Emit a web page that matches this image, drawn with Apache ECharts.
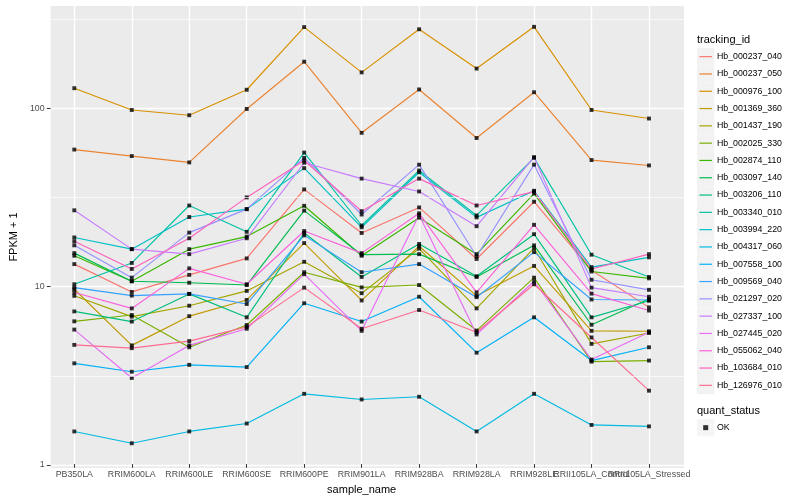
<!DOCTYPE html>
<html><head><meta charset="utf-8">
<script src="https://cdn.jsdelivr.net/npm/echarts@6/dist/echarts.min.js"></script>
<style>html,body{margin:0;padding:0;background:#fff}#c{width:800px;height:500px}</style>
</head><body><div id="c"></div>
<script>
const categories = ['PB350LA','RRIM600LA','RRIM600LE','RRIM600SE','RRIM600PE','RRIM901LA','RRIM928BA','RRIM928LA','RRIM928LE','RRII105LA_Control','RRII105LA_Stressed'];
const trackingIds = ['Hb_000237_040','Hb_000237_050','Hb_000976_100','Hb_001369_360','Hb_001437_190','Hb_002025_330','Hb_002874_110','Hb_003097_140','Hb_003206_110','Hb_003340_010','Hb_003994_220','Hb_004317_060','Hb_007558_100','Hb_009569_040','Hb_021297_020','Hb_027337_100','Hb_027445_020','Hb_055062_040','Hb_103684_010','Hb_126976_010'];
const colors = ['#F8766D','#EA8331','#D89000','#C09B00','#A3A500','#7CAE00','#39B600','#00BB4E','#00BF7D','#00C1A3','#00BFC4','#00BAE0','#00B0F6','#35A2FF','#9590FF','#C77CFF','#E76BF3','#FA62DB','#FF62BC','#FF6C91'];
const yTicks = [1, 10, 100];
const quantStatus = ['OK'];

const hb_000237_040 = [13.0, 9.05, 11.3, 14.0, 34.4, 19.5, 27.2, 13.9, 29.3, 12.0, 7.4];
const hb_000237_050 = [57.8, 53.1, 48.9, 98.1, 181.6, 71.9, 126.5, 67.2, 122, 50.4, 47];
const hb_000976_100 = [128.6, 96.8, 90.4, 126, 285, 158, 277, 166, 286, 96.8, 86.6];
const hb_001369_360 = [9.37, 4.51, 6.6, 8.15, 17.1, 8.1, 16.4, 8.6, 12.7, 5.45, 5.42];
const hb_001437_190 = [8.6, 6.56, 7.56, 9.17, 13.4, 8.9, 15.9, 7.3, 16.0, 4.6, 5.3];
const hb_002025_330 = [6.17, 6.7, 4.4, 5.88, 11.7, 9.6, 9.9, 5.47, 10.9, 3.65, 3.7];
const hb_002874_110 = [14.5, 10.4, 15.8, 18.6, 27.8, 14.5, 23.8, 14.8, 32.6, 11.8, 10.8];
const hb_003097_140 = [15.0, 10.4, 10.2, 9.9, 26.1, 14.7, 14.8, 11.0, 16.6, 5.9, 8.25];
const hb_003206_110 = [7.02, 6.15, 8.82, 6.5, 19.5, 11.0, 16.9, 11.1, 19.2, 6.5, 8.06];
const hb_003340_010 = [10.0, 13.2, 27.9, 19.8, 55.6, 21.5, 44, 24.5, 51.9, 14.7, 11.0];
const hb_003994_220 = [18.4, 15.8, 24.0, 26.6, 45.4, 21.0, 43, 23.9, 33.8, 12.5, 14.2];
const hb_004317_060 = [1.47, 1.26, 1.47, 1.63, 2.40, 2.23, 2.31, 1.47, 2.40, 1.6, 1.57];
const hb_007558_100 = [3.57, 3.2, 3.5, 3.4, 7.81, 6.15, 8.5, 4.1, 6.5, 3.7, 4.4];
const hb_009569_040 = [9.57, 8.63, 8.82, 7.73, 18.9, 11.7, 13.0, 8.45, 15.2, 8.2, 8.15];
const hb_021297_020 = [16.6, 10.9, 19.6, 26.6, 51.9, 24.8, 47.5, 14.4, 47.5, 10.6, 9.3];
const hb_027337_100 = [26.2, 15.8, 14.8, 18.2, 48.7, 39.6, 33.5, 21.3, 52.4, 9.57, 8.5];
const hb_027445_020 = [5.54, 2.95, 4.51, 5.6, 11.4, 5.45, 24.7, 5.2, 10.4, 3.75, 5.35];
const hb_055062_040 = [8.98, 7.3, 12.3, 10.0, 20.0, 15.0, 25.2, 9.0, 21.7, 8.85, 7.1];
const hb_103684_010 = [17.5, 12.2, 18.2, 31.0, 50.1, 25.9, 39.6, 27.9, 33.4, 12.2, 14.8];
const hb_126976_010 = [4.54, 4.35, 4.77, 5.74, 9.57, 5.6, 7.15, 5.35, 10.0, 5.0, 2.5];

const seriesValues = [hb_000237_040, hb_000237_050, hb_000976_100, hb_001369_360, hb_001437_190, hb_002025_330, hb_002874_110, hb_003097_140, hb_003206_110, hb_003340_010, hb_003994_220, hb_004317_060, hb_007558_100, hb_009569_040, hb_021297_020, hb_027337_100, hb_027445_020, hb_055062_040, hb_103684_010, hb_126976_010];

// ggplot-like limits: log range expanded by 5%
const allVals = seriesValues.flat();
const lo = Math.log10(Math.min(...allVals)), hi = Math.log10(Math.max(...allVals));
const pad = 0.05 * (hi - lo);
const yMin = Math.pow(10, lo - pad), yMax = Math.pow(10, hi + pad);
// minor breaks halfway (in log space) between major breaks
const yMinor = yTicks.map(t => t * Math.sqrt(10)).filter(v => v > yMin && v < yMax);

const FONT = 'Liberation Sans';
const lineSeries = trackingIds.map((id, i) => ({
  name: id, type: 'line', xAxisIndex: 1, yAxisIndex: 1,
  data: seriesValues[i], symbol: 'none', showSymbol: false, silent: true,
  lineStyle: { width: 1.15, color: colors[i] }, itemStyle: { color: colors[i] },
  z: 3
}));
const pointData = [];
seriesValues.forEach(arr => arr.forEach((v, j) => pointData.push([categories[j], v])));
const pointSeries = {
  name: quantStatus[0], type: 'scatter', xAxisIndex: 1, yAxisIndex: 1, data: pointData,
  symbol: 'rect', symbolSize: 3.9, itemStyle: { color: '#000' }, silent: true, z: 4
};
// minor horizontal grid lines across the whole panel
const minorGridSeries = {
  name: '_minor', type: 'line', xAxisIndex: 0, yAxisIndex: 0, data: [], silent: true, z: 1,
  markLine: { silent: true, symbol: ['none', 'none'], label: { show: false },
    lineStyle: { color: '#FFFFFF', width: 0.7, type: 'solid' },
    emphasis: { disabled: true },
    data: yMinor.map(v => ({ yAxis: v })) }
};

const chart = echarts.init(document.getElementById('c'), null, { renderer: 'canvas' });
chart.setOption({
  animation: false,
  backgroundColor: '#fff',
  textStyle: { fontFamily: FONT },
  title: [
    { text: 'tracking_id', left: 697, top: 34.5, padding: 0, textStyle: { fontSize: 11, fontWeight: 'normal', color: '#000', fontFamily: FONT } },
    { text: 'quant_status', left: 697, top: 405, padding: 0, textStyle: { fontSize: 11, fontWeight: 'normal', color: '#000', fontFamily: FONT } }
  ],
  grid: [
    { left: 40, right: 116, top: 6, bottom: 32, show: true, backgroundColor: '#EBEBEB', borderWidth: 0 },
    { left: 74.3, right: 151, top: 6, bottom: 32, show: false }
  ],
  xAxis: [
    { gridIndex: 0, type: 'value', min: 0, max: 1, show: false },
    { gridIndex: 1, type: 'category', data: categories, boundaryGap: false,
      axisLine: { show: false },
      axisTick: { show: true, length: 3.7, lineStyle: { color: '#333333', width: 1 } },
      axisLabel: { interval: 0, hideOverlap: false, color: '#4D4D4D', fontSize: 8.8, fontFamily: FONT, margin: 6 },
      splitLine: { show: true, lineStyle: { color: '#FFFFFF', width: 1.4 } },
      name: 'sample_name', nameLocation: 'middle', nameGap: 17,
      nameTextStyle: { fontSize: 11, color: '#000', fontFamily: FONT } }
  ],
  yAxis: [
    { gridIndex: 0, type: 'log', logBase: 10, min: yMin, max: yMax,
      axisLine: { show: false },
      axisTick: { show: true, length: 3.7, lineStyle: { color: '#333333', width: 1 }, customValues: yTicks },
      axisLabel: { customValues: yTicks, color: '#4D4D4D', fontSize: 8.8, fontFamily: FONT, margin: 6 },
      splitLine: { show: true, lineStyle: { color: '#FFFFFF', width: 1.4 } },
      minorTick: { show: false }, minorSplitLine: { show: false },
      name: 'FPKM + 1', nameLocation: 'middle', nameGap: 27, nameRotate: 90,
      nameTextStyle: { fontSize: 11, color: '#000', fontFamily: FONT } },
    { gridIndex: 1, type: 'log', logBase: 10, min: yMin, max: yMax, show: false,
      splitLine: { show: false } }
  ],
  legend: [
    { data: trackingIds, orient: 'vertical', left: 697, top: 48, padding: 0, itemGap: 0,
      itemWidth: 17.3, itemHeight: 17.3, icon: 'rect', selectedMode: false,
      itemStyle: { color: '#F2F2F2', borderWidth: 0 },
      textStyle: { color: 'rgba(0,0,0,0)', fontSize: 8.8, lineHeight: 17.3, fontFamily: FONT } },
    { data: trackingIds, orient: 'vertical', left: 699.4, top: 48, padding: 0, itemGap: 0,
      itemWidth: 12.5, itemHeight: 1.2, icon: 'rect', selectedMode: false,
      itemStyle: { borderWidth: 0 },
      textStyle: { color: '#000', fontSize: 8.8, lineHeight: 17.3, fontFamily: FONT } },
    { data: quantStatus, orient: 'vertical', left: 697, top: 419, padding: 0, itemGap: 0,
      itemWidth: 17.3, itemHeight: 17.3, icon: 'rect', selectedMode: false,
      itemStyle: { color: '#F2F2F2', borderWidth: 0 },
      textStyle: { color: 'rgba(0,0,0,0)', fontSize: 8.8, lineHeight: 17.3, fontFamily: FONT } },
    { data: quantStatus, orient: 'vertical', left: 703.2, top: 419, padding: 0, itemGap: 0,
      itemWidth: 5, itemHeight: 5, icon: 'rect', selectedMode: false,
      itemStyle: { color: '#000', borderWidth: 0 },
      textStyle: { color: '#000', fontSize: 8.8, lineHeight: 17.3, fontFamily: FONT, padding: [0, 0, 0, 3.8] } }
  ],
  series: [minorGridSeries].concat(lineSeries, [pointSeries])
});
</script>
</body></html>
